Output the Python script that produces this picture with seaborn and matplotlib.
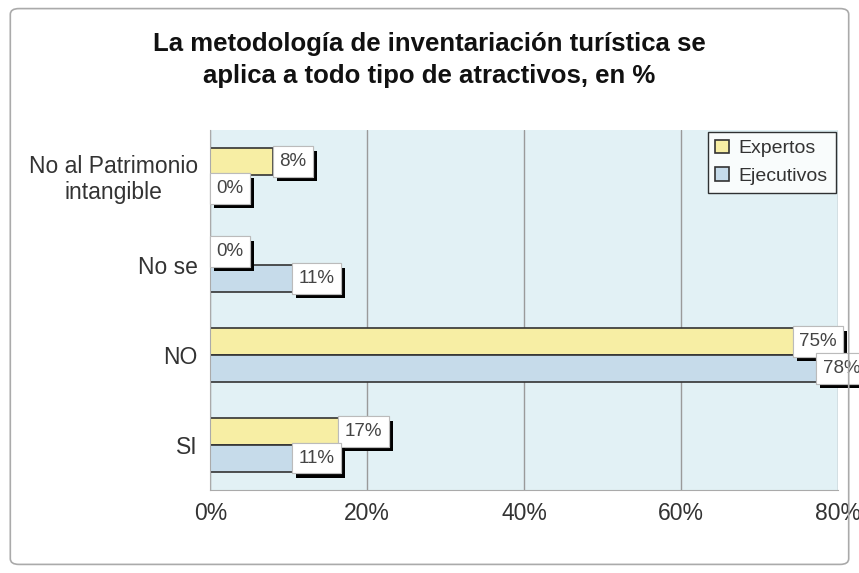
import pandas as pd
import matplotlib.pyplot as plt
import matplotlib.patheffects as pe
from matplotlib.patches import FancyBboxPatch
from matplotlib.ticker import PercentFormatter
import seaborn as sns

# Data (top to bottom)
categorias = ['No al Patrimonio\nintangible', 'No se', 'NO', 'SI']
expertos = [8, 0, 75, 17]
ejecutivos = [0, 11, 78, 11]
series = ['Expertos', 'Ejecutivos']

df = pd.DataFrame({
    'Respuesta': categorias * 2,
    'Serie': ['Expertos'] * 4 + ['Ejecutivos'] * 4,
    'Valor': expertos + ejecutivos,
})

sns.set_style('white')
plt.rcParams['font.family'] = ['Liberation Sans', 'DejaVu Sans']

fig = plt.figure(figsize=(8.59, 5.73), dpi=100)
ax = fig.add_axes([0.245, 0.145, 0.73, 0.628])

sns.barplot(data=df, x='Valor', y='Respuesta', hue='Serie', hue_order=series,
            palette=['#f7eea4', '#c6dbea'], saturation=1, width=0.6, orient='h',
            edgecolor='#333333', linewidth=1.2, ax=ax)

ax.set_facecolor('#e2f1f5')
ax.set_xlim(0, 80)
ax.xaxis.set_major_formatter(PercentFormatter(decimals=0))
ax.set_xticks([0, 20, 40, 60, 80])
ax.grid(axis='x', color='#9a9a9a', linewidth=1)
ax.set_axisbelow(True)
ax.set_xlabel('')
ax.set_ylabel('')
ax.tick_params(axis='both', labelsize=16.5, colors='#333333', length=0, pad=9)
for lbl in ax.get_yticklabels():
    lbl.set_multialignment('center')
for s in ['top', 'right']:
    ax.spines[s].set_visible(False)
for s in ['left', 'bottom']:
    ax.spines[s].set_color('#aaaaaa')

# value labels: white boxes with black drop shadow
for container, vals in zip(ax.containers, [expertos, ejecutivos]):
    for bar, v in zip(container, vals):
        y = bar.get_y() + bar.get_height() / 2
        t = ax.text(v + 2.5, y, f'{v}%', ha='center', va='center', fontsize=13.5,
                    color='#444444',
                    bbox=dict(boxstyle='square,pad=0.35', facecolor='white',
                              edgecolor='#bbbbbb', linewidth=0.8))
        t.get_bbox_patch().set_path_effects([
            pe.withSimplePatchShadow(offset=(3, -3), shadow_rgbFace='black', alpha=1),
            pe.Normal()])

leg = ax.legend(loc='upper right', fontsize=14, frameon=True, fancybox=False,
                edgecolor='black', handlelength=0.7, handleheight=0.7,
                borderaxespad=0.1, labelspacing=0.5, handletextpad=0.5)
leg.get_frame().set_linewidth(1)
for txt in leg.get_texts():
    txt.set_color('#333333')

fig.text(0.5, 0.895, 'La metodología de inventariación turística se\naplica a todo tipo de atractivos, en %',
         ha='center', va='center', fontsize=18.5, fontweight='bold',
         linespacing=1.45, color='#111111')

fig.patches.append(FancyBboxPatch((0.012, 0.015), 0.976, 0.97,
                                  boxstyle='round,pad=0,rounding_size=0.01',
                                  transform=fig.transFigure, fill=False,
                                  edgecolor='#aaaaaa', linewidth=1.2))

fig.savefig('out.png', dpi=100)
